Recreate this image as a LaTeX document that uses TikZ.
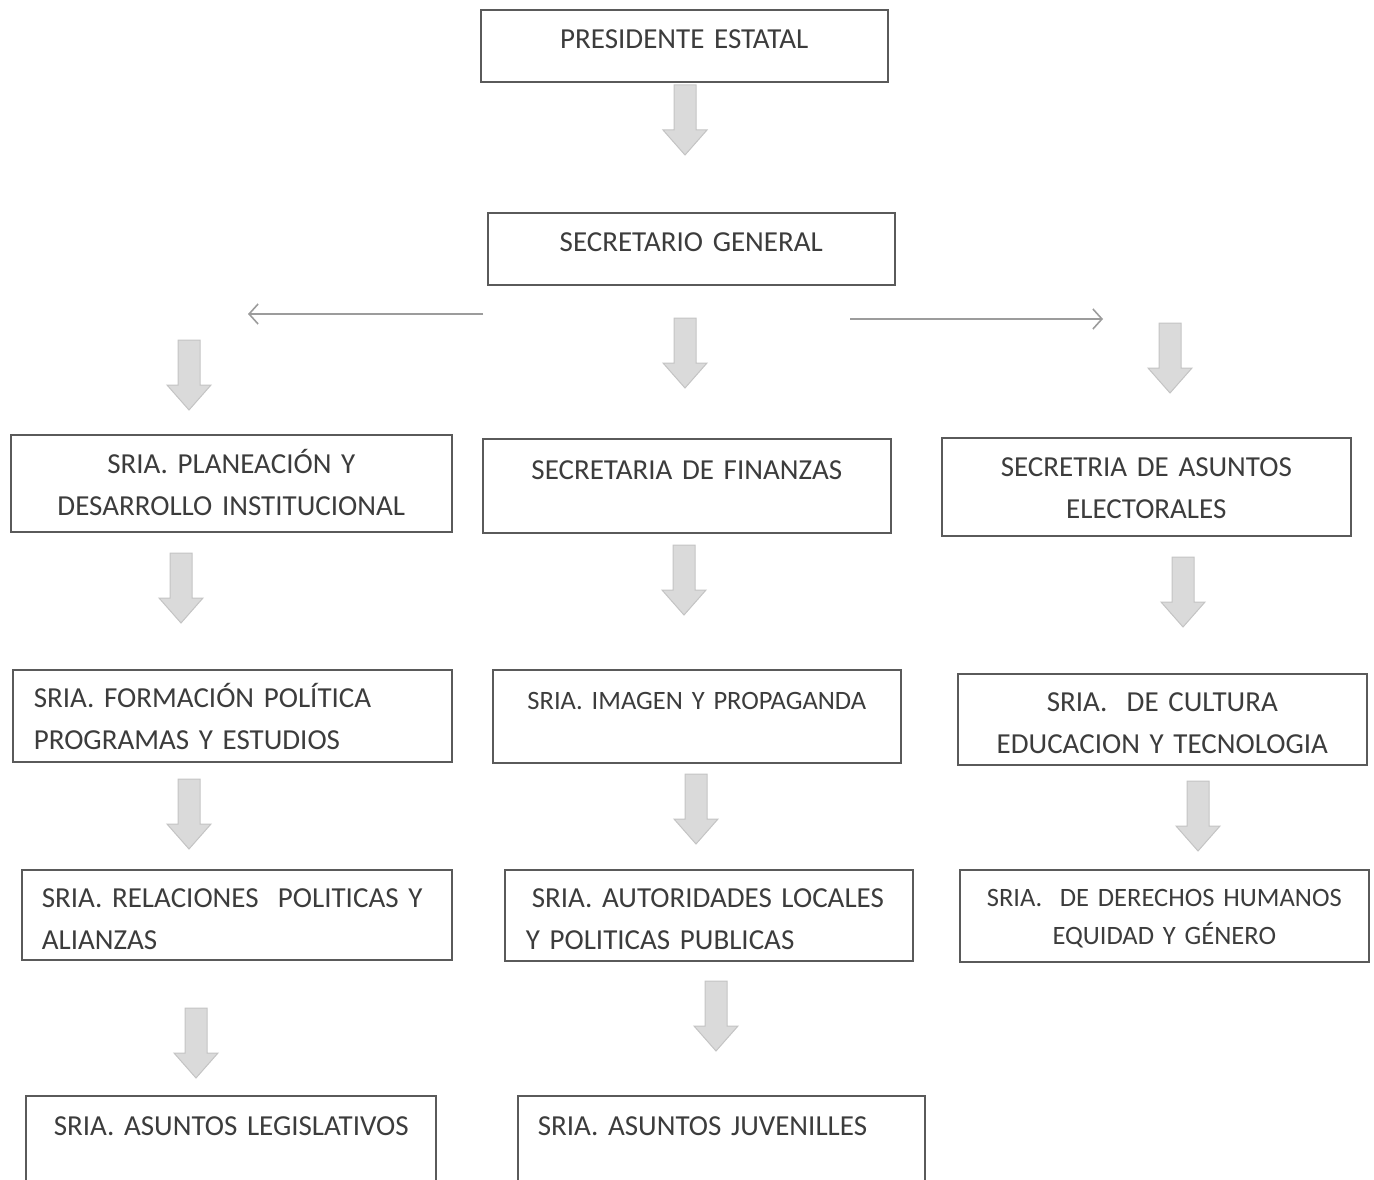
\documentclass[tikz,border=0pt]{standalone}
\usepackage{fontspec}
\setmainfont{Carlito}
\usetikzlibrary{arrows.meta}
\hyphenpenalty=10000
\exhyphenpenalty=10000

\definecolor{boxline}{HTML}{5A5A5A}
\definecolor{boxtext}{HTML}{3C3C3C}
\definecolor{arrowfill}{HTML}{DADADA}
\definecolor{arrowline}{HTML}{C4C4C4}
\definecolor{thinline}{HTML}{9C9C9C}

\tikzset{
    orgbox/.style={draw=boxline, line width=1.6pt, anchor=north west, inner ysep=0pt, text=boxtext, font=\fontsize{29}{42}\selectfont},
    smalltext/.style={font=\fontsize{26.5}{38}\selectfont},
    sidearrow/.style={draw=thinline, line width=1.6pt, -{Straight Barb[length=9pt,width=20pt,line width=1.6pt]}},
    blockarrow/.pic={
        \draw[draw=arrowline, fill=arrowfill, line width=1pt] (-11,0) -- (-11,-45) -- (-22,-45) -- (0,-70) -- (22,-45) -- (11,-45) -- (11,0) -- cycle;
    }
}

\begin{document}
\begin{tikzpicture}[x=1pt, y=1pt]
    \useasboundingbox (0,0) rectangle (1374,-1180);
    \clip (0,0) rectangle (1374,-1180);

    % first level
    \node[orgbox, align=center, inner xsep=0pt, text width=407pt, text height=38.3pt, text depth=33.7pt] (pres) at (480,-9) {PRESIDENTE ESTATAL};
    \node[orgbox, align=center, inner xsep=0pt, text width=407pt, text height=38.3pt, text depth=33.7pt] (secgen) at (487,-212) {SECRETARIO GENERAL};

    % secretarias
    \node[orgbox, align=center, inner xsep=0pt, text width=441pt, text height=38.3pt, text depth=58.7pt] (planea) at (10,-434) {SRIA. PLANEACIÓN Y\\DESARROLLO INSTITUCIONAL};
    \node[orgbox, align=center, inner xsep=0pt, text width=408pt, text height=40.3pt, text depth=53.7pt] (finanzas) at (482,-438) {SECRETARIA DE FINANZAS};
    \node[orgbox, align=center, inner xsep=0pt, text width=409pt, text height=38.3pt, text depth=59.7pt] (electoral) at (941,-437) {SECRETRIA DE ASUNTOS\\ELECTORALES};

    \node[orgbox, align=left, inner xsep=21pt, text width=397pt, text height=37.3pt, text depth=54.7pt] (formacion) at (12,-669) {SRIA. FORMACIÓN POLÍTICA\\PROGRAMAS Y ESTUDIOS};
    \node[orgbox, smalltext, align=center, inner xsep=0pt, text width=408pt, text height=39.5pt, text depth=53.5pt] (imagen) at (492,-669) {SRIA. IMAGEN Y PROPAGANDA};
    \node[orgbox, align=center, inner xsep=0pt, text width=409pt, text height=37.3pt, text depth=53.7pt] (cultura) at (957,-673) {SRIA.\ \ DE CULTURA\\EDUCACION Y TECNOLOGIA};

    \node[orgbox, align=left, inner xsep=20pt, text width=390pt, text height=37.3pt, text depth=52.7pt] (relaciones) at (21,-869) {SRIA. RELACIONES\ \ POLITICAS Y\\ALIANZAS};
    \node[orgbox, align=left, inner xsep=21pt, text width=366pt, text height=37.3pt, text depth=53.7pt] (autoridades) at (504,-869) {\hspace*{6pt}SRIA. AUTORIDADES LOCALES\\Y POLITICAS PUBLICAS};
    \node[orgbox, smalltext, align=center, inner xsep=0pt, text width=409pt, text height=36.5pt, text depth=55.5pt] (derechos) at (959,-869) {SRIA.\ \ DE DERECHOS HUMANOS\\EQUIDAD Y GÉNERO};

    \node[orgbox, align=left, inner xsep=0pt, text width=410pt, text height=39.3pt, text depth=70pt] (legislativos) at (25,-1095) {\hspace*{28pt}SRIA. ASUNTOS LEGISLATIVOS};
    \node[orgbox, align=left, inner xsep=0pt, text width=407pt, text height=39.3pt, text depth=70pt] (juveniles) at (517,-1095) {\hspace*{20pt}SRIA. ASUNTOS JUVENILLES};

    % side arrows
    \coordinate (leftfrom) at (483,-314);
    \coordinate (leftto) at (248,-314);
    \coordinate (rightfrom) at (850,-319);
    \coordinate (rightto) at (1103,-319);
    \draw[sidearrow] (leftfrom) -- (leftto);
    \draw[sidearrow] (rightfrom) -- (rightto);

    % block arrows
    \pic (arrpres) at (685,-85) {blockarrow};
    \pic (arrsecgen) at (685,-318) {blockarrow};
    \pic (arrleft) at (189,-340) {blockarrow};
    \pic (arrright) at (1170,-323) {blockarrow};
    \pic (arrplanea) at (181,-553) {blockarrow};
    \pic (arrfinanzas) at (684,-545) {blockarrow};
    \pic (arrelectoral) at (1183,-557) {blockarrow};
    \pic (arrformacion) at (189,-779) {blockarrow};
    \pic (arrimagen) at (696,-774) {blockarrow};
    \pic (arrcultura) at (1198,-781) {blockarrow};
    \pic (arrrelaciones) at (196,-1008) {blockarrow};
    \pic (arrautoridades) at (716,-981) {blockarrow};
\end{tikzpicture}
\end{document}
